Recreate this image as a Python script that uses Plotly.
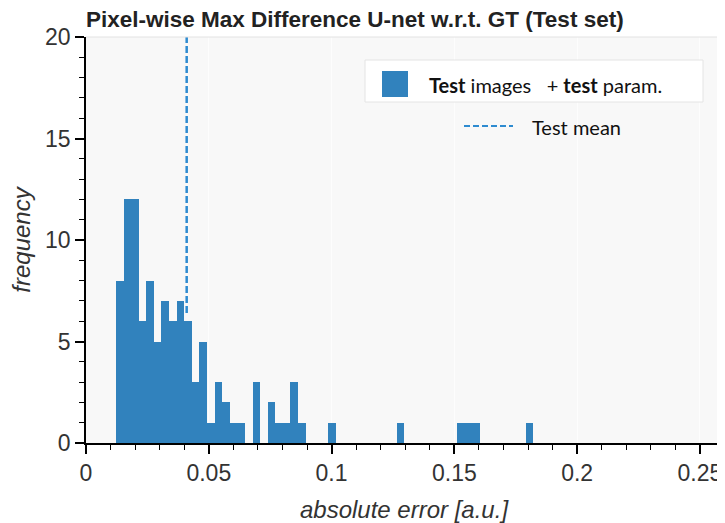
import plotly.graph_objects as go

# ---- data ----
bin_start = 0.01221
bin_width = 0.003089
counts = [8, 12, 12, 6, 8, 5, 7, 6, 7, 6,
          3, 5, 1, 3, 2, 1, 1, 0, 3, 0,
          2, 1, 1, 3, 1, 0, 0, 0, 1, 0,
          0, 0, 0, 0, 0, 0, 0, 1, 0, 0,
          0, 0, 0, 0, 0, 1, 1, 1, 0, 0,
          0, 0, 0, 0, 1]
test_mean = 0.0410

title = "Pixel-wise Max Difference U-net w.r.t. GT (Test set)"
x_title = "absolute error [a.u.]"
y_title = "frequency"
legend_bar = "<b>Test</b> images   + <b>test</b> param."
legend_line = "Test mean"

bar_color = "#3182bd"
line_color = "#2e8bd0"

centers = [bin_start + bin_width * (i + 0.5) for i in range(len(counts))]
mean_bin = int((test_mean - bin_start) // bin_width)

# page body has an 8px default margin: figure occupies (8..725, 8..523)
OFF = 8
W, H = 725 - OFF, 523 - OFF
L, R, T, B = 86 - OFF, 3, 37 - OFF, 80
pw, ph = W - L - R, H - T - B

def px(x):
    return (x - OFF - L) / pw

def py(y):
    return (H - B - (y - OFF)) / ph

fig = go.Figure()
fig.add_trace(go.Bar(x=centers, y=counts, width=bin_width,
                     marker=dict(color=bar_color, line=dict(width=0)),
                     showlegend=False))
fig.add_trace(go.Scatter(x=[test_mean, test_mean], y=[counts[mean_bin] + 0.4, 20],
                         mode="lines", line=dict(color=line_color, width=2.5, dash="7px,3px"),
                         showlegend=False))

shapes = [
    dict(type="rect", xref="paper", yref="paper", x0=px(365), x1=px(703), y0=py(60), y1=py(102),
         fillcolor="white", line=dict(color="#e4e4e4", width=1), layer="above"),
    dict(type="rect", xref="paper", yref="paper", x0=px(382), x1=px(408), y0=py(71), y1=py(97),
         fillcolor=bar_color, line=dict(width=0), layer="above"),
    dict(type="line", xref="paper", yref="paper", x0=px(464), x1=px(513), y0=py(126), y1=py(126),
         line=dict(color=line_color, width=2.2, dash="6px,3px"), layer="above"),
    dict(type="rect", xref="paper", yref="paper", x0=px(720), x1=px(725), y0=py(75), y1=py(120),
         fillcolor="#2b7d9a", line=dict(width=0), layer="above"),
    dict(type="line", xref="paper", yref="paper", x0=0, x1=1, y0=1, y1=1,
         line=dict(color="#e2e2e2", width=1)),
]

annotations = [
    dict(text=legend_bar, xref="paper", yref="paper", x=px(427), y=py(85),
         xanchor="left", yanchor="middle", showarrow=False,
         font=dict(family="Lato", size=20, color="#111")),
    dict(text=legend_line, xref="paper", yref="paper", x=px(530), y=py(127),
         xanchor="left", yanchor="middle", showarrow=False,
         font=dict(family="Lato", size=20, color="#111")),
]

fig.update_layout(
    width=W, height=H,
    margin=dict(l=L, r=R, t=T, b=B, autoexpand=False),
    paper_bgcolor="white",
    plot_bgcolor="#f8f8f8",
    bargap=0,
    title=dict(text="<b>" + title + "</b>", xref="paper", x=0.0, xanchor="left",
               y=1 - (19 - OFF) / H, yanchor="middle",
               font=dict(family="Liberation Sans", size=22.5, color="#222")),
    shapes=shapes,
    annotations=annotations,
    showlegend=False,
)

fig.update_xaxes(
    range=[0, 0.259], tickmode="array", tickvals=[0, 0.05, 0.1, 0.15, 0.2, 0.25],
    ticktext=["0", "0.05", "0.1", "0.15", "0.2", "0.25"],
    ticks="outside", ticklen=9, tickwidth=1.5, tickcolor="black",
    minor=dict(dtick=0.01, tick0=0, ticks="outside", ticklen=5, tickwidth=1.2, tickcolor="black", showgrid=False),
    showline=True, linecolor="black", linewidth=1.5,
    showgrid=True, gridcolor="#fdfdfd", gridwidth=1, zeroline=False,
    tickfont=dict(family="Liberation Sans", size=23, color="#333"),
    automargin=False,
    title=dict(text="<i>" + x_title + "</i>", standoff=18,
               font=dict(family="Liberation Sans", size=24, color="#333")),
)
fig.update_yaxes(
    range=[0, 20], tickmode="array", tickvals=[0, 5, 10, 15, 20],
    ticks="outside", ticklen=9, tickwidth=1.5, tickcolor="black",
    minor=dict(dtick=1, tick0=0, ticks="outside", ticklen=5, tickwidth=1.2, tickcolor="black", showgrid=False),
    showline=True, linecolor="black", linewidth=1.5,
    showgrid=False, zeroline=False,
    tickfont=dict(family="Liberation Sans", size=23, color="#333"),
    automargin=False,
    title=dict(text="<i>" + y_title + "</i>", standoff=10,
               font=dict(family="Liberation Sans", size=24, color="#333")),
)

fig.write_html("out.html")
